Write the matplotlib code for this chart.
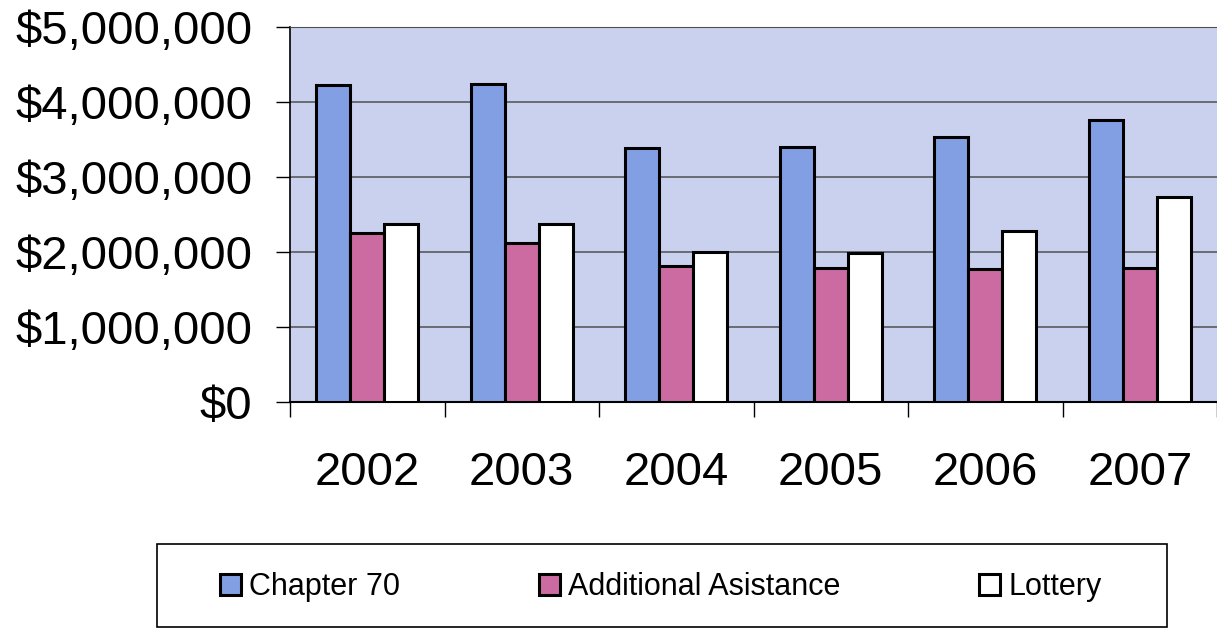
import matplotlib
matplotlib.use("Agg")
import matplotlib.pyplot as plt
from matplotlib.patches import Rectangle
from matplotlib.ticker import FuncFormatter
import numpy as np

plt.rcParams['font.family'] = ['Liberation Sans', 'DejaVu Sans']

years = ['2002', '2003', '2004', '2005', '2006', '2007']
chapter70 = [4230000, 4240000, 3390000, 3400000, 3540000, 3760000]
additional = [2260000, 2120000, 1810000, 1790000, 1780000, 1790000]
lottery = [2370000, 2370000, 2000000, 1990000, 2280000, 2730000]
series_names = ['Chapter 70', 'Additional Asistance', 'Lottery']

BLUE = '#829fe4'
PINK = '#cc6aa2'
PLOT_BG = '#c9d1ef'
W = 0.22

fig = plt.figure(figsize=(12.17, 6.30), dpi=100)
ax = fig.add_axes([290 / 1217, 1 - 402 / 630, 927 / 1217, 375 / 630])
ax.set_facecolor(PLOT_BG)

x = np.arange(len(years))
bars = []
for i, (vals, col) in enumerate(zip([chapter70, additional, lottery], [BLUE, PINK, 'white'])):
    b = ax.bar(x + (i - 1) * W, vals, W, color=col, edgecolor='black', linewidth=2.2,
               label=series_names[i], zorder=3)
    bars.append(b)

ax.set_xlim(-0.5, len(years) - 0.5)
ax.set_ylim(0, 5000000)

# y axis: dollar labels, gridlines every million
ax.set_yticks(np.arange(0, 5000001, 1000000))
ax.yaxis.set_major_formatter(FuncFormatter(lambda v, p: '${:,.0f}'.format(v)))
ax.grid(axis='y', color='#505050', linewidth=1.1, zorder=1)
ax.tick_params(axis='y', direction='out', length=10, width=1, pad=17, labelsize=34)

# x axis: tick marks between categories, labels at the centres
ax.set_xticks(np.arange(-0.5, len(years), 1.0))
ax.set_xticklabels([])
ax.set_xticks(x, minor=True)
ax.set_xticklabels(years, minor=True)
ax.tick_params(axis='x', which='major', direction='out', length=11, width=1)
ax.tick_params(axis='x', which='minor', length=0, pad=35, labelsize=34)

ax.spines['left'].set_linewidth(1.2)
ax.spines['bottom'].set_linewidth(1.5)
ax.spines['top'].set_color('#505050')
ax.spines['right'].set_visible(False)

# legend with a plain rectangular frame below the plot
fig.add_artist(Rectangle((157 / 1217, 1 - 627 / 630), 1010 / 1217, 83 / 630,
                         transform=fig.transFigure, fill=False,
                         edgecolor='black', linewidth=1.2))
fig.legend(handles=bars, labels=series_names, loc='center left',
           bbox_to_anchor=(220 / 1217, 1 - 587 / 630), ncol=3, frameon=False,
           fontsize=22, handlelength=0.68, handleheight=0.68, handletextpad=0.27,
           columnspacing=4.55, borderpad=0, borderaxespad=0)

fig.savefig('out.png', dpi=100, facecolor='white')
